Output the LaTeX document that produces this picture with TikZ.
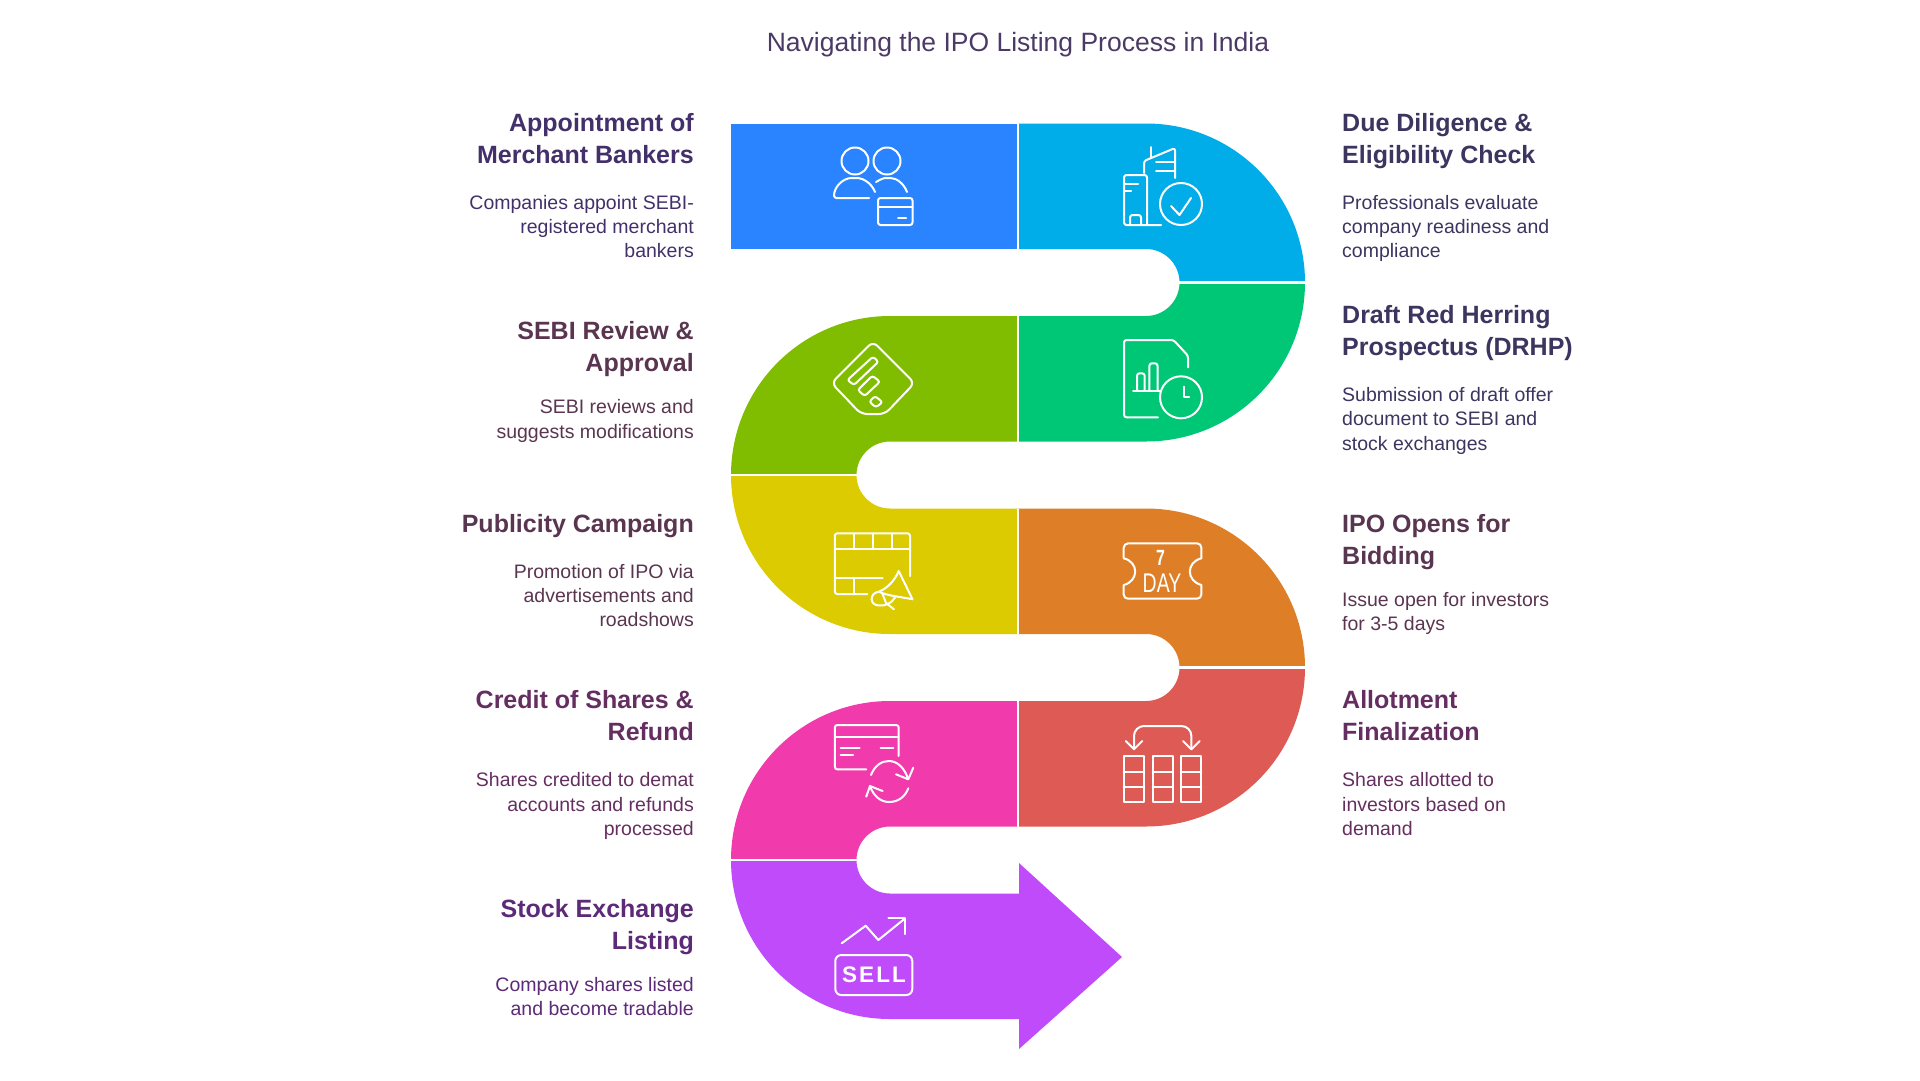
\documentclass[tikz,border=0pt]{standalone}
\usepackage{fontspec}
\setmainfont{Liberation Sans}
\newfontfamily\sellfont[LetterSpace=9]{Liberation Sans}
\def\bigradius{159}
\def\notchradius{33.5}
\definecolor{band blue}{HTML}{2A83FF}
\definecolor{band cyan}{HTML}{00ADE8}
\definecolor{band green}{HTML}{00C776}
\definecolor{band lime}{HTML}{80BD00}
\definecolor{band yellow}{HTML}{DCCB00}
\definecolor{band orange}{HTML}{DE7F27}
\definecolor{band red}{HTML}{DE5A55}
\definecolor{band pink}{HTML}{F13BAD}
\definecolor{band purple}{HTML}{BF4BFB}
\definecolor{title ink}{HTML}{4C3A66}
\definecolor{ink blue}{HTML}{43306A}
\definecolor{ink slate}{HTML}{3B3560}
\definecolor{ink plum}{HTML}{5A3550}
\definecolor{ink wine}{HTML}{652E60}
\definecolor{ink violet}{HTML}{5C2A78}
\tikzset{
  headleft/.style={anchor=north east, align=right, inner sep=0pt, font=\fontsize{25}{32}\selectfont\bfseries},
  headright/.style={anchor=north west, align=left, inner sep=0pt, font=\fontsize{25}{32}\selectfont\bfseries},
  bodyleft/.style={anchor=north east, align=right, inner sep=0pt, font=\fontsize{19.5}{24.2}\selectfont},
  bodyright/.style={anchor=north west, align=left, inner sep=0pt, font=\fontsize{19.5}{24.2}\selectfont}
  }
\tikzstyle{divider} = [draw=white, line width=2.5pt]
\tikzstyle{icon}=[draw=white, line width=2pt, line cap=round, line join=round, rounded corners=2.5pt]

\begin{document}
\begin{tikzpicture}[x=1pt,y=1pt,yscale=-1]
   \useasboundingbox (0,0) rectangle (1920,1080);

   \node[inner sep=0pt, text=title ink, font=\fontsize{26.5}{32}\selectfont] (title) at (1018,44.5) {Navigating the IPO Listing Process in India};

   % the winding band, one piece per step
   \fill[band blue] (731,123.5) rectangle (1018,249);
   \fill[band cyan] (1018,123.5) -- (1146,123.5) arc[start angle=-90, end angle=0, radius=\bigradius] -- (1179.5,282.5) arc[start angle=0, end angle=-90, radius=\notchradius] -- (1018,249) -- cycle;
   \fill[band green] (1018,316) -- (1146,316) arc[start angle=90, end angle=0, radius=\notchradius] -- (1305,282.5) arc[start angle=0, end angle=90, radius=\bigradius] -- (1018,441.5) -- cycle;
   \fill[band lime] (1018,316) -- (890,316) arc[start angle=-90, end angle=-180, radius=\bigradius] -- (856.5,475) arc[start angle=180, end angle=270, radius=\notchradius] -- (1018,441.5) -- cycle;
   \fill[band yellow] (1018,508.5) -- (890,508.5) arc[start angle=90, end angle=180, radius=\notchradius] -- (731,475) arc[start angle=180, end angle=90, radius=\bigradius] -- (1018,634) -- cycle;
   \fill[band orange] (1018,508.5) -- (1146,508.5) arc[start angle=-90, end angle=0, radius=\bigradius] -- (1179.5,667.5) arc[start angle=0, end angle=-90, radius=\notchradius] -- (1018,634) -- cycle;
   \fill[band red] (1018,701) -- (1146,701) arc[start angle=90, end angle=0, radius=\notchradius] -- (1305,667.5) arc[start angle=0, end angle=90, radius=\bigradius] -- (1018,826.5) -- cycle;
   \fill[band pink] (1018,701) -- (890,701) arc[start angle=-90, end angle=-180, radius=\bigradius] -- (856.5,860) arc[start angle=180, end angle=270, radius=\notchradius] -- (1018,826.5) -- cycle;
   \fill[band purple] (1019,893.5) -- (890,893.5) arc[start angle=90, end angle=180, radius=\notchradius] -- (731,860) arc[start angle=180, end angle=90, radius=\bigradius] -- (1019,1019) -- (1019,1049) -- (1122,957) -- (1019,863) -- cycle;

   \path[divider] (1018,123) -- (1018,249);
   \path[divider] (1018,316) -- (1018,441.5);
   \path[divider] (1018,508.5) -- (1018,634);
   \path[divider] (1018,701) -- (1018,826.5);
   \path[divider] (1179,282.5) -- (1306,282.5);
   \path[divider] (730,475) -- (857,475);
   \path[divider] (1179,667.5) -- (1306,667.5);
   \path[divider] (730,860) -- (857,860);

   % people with card
   \draw[icon] (855,161) circle[radius=13.5];
   \draw[icon] (887,161) circle[radius=13.5];
   \draw[icon] (869,198) -- (834,198) .. controls (834,187) and (843,178) .. (854,178) .. controls (864,178) and (872,184) .. (875,192);
   \draw[icon] (876,182) .. controls (881,179) and (884,178) .. (888,178) .. controls (897,178) and (904,184) .. (907,192);
   \draw[icon] (878,198) rectangle (912.5,225);
   \draw[icon] (878,207) -- (912.5,207);
   \draw[icon] (898,218) -- (906,218);

   % buildings with check
   \draw[icon] (1161,225) -- (1124,225) -- (1124,175) -- (1147,175) -- (1147,225);
   \draw[icon] (1124,184) -- (1138,184);
   \draw[icon] (1124,191) -- (1131,191);
   \draw[icon] (1130,225) -- (1130,215) -- (1141,215) -- (1141,225);
   \draw[icon] (1144,173) -- (1144,161) -- (1175,148) -- (1175,178);
   \draw[icon] (1151,147) -- (1151,157);
   \draw[icon] (1156,162) -- (1175,162);
   \draw[icon] (1156,171) -- (1175,171);
   \draw[icon] (1181,204) circle[radius=21];
   \draw[icon,rounded corners=0pt] (1171,206) -- (1179.5,215) -- (1191,198);

   % diamond with bars
   \draw[icon,rounded corners=6pt] (873,341.5) -- (914.5,383) -- (885,414) -- (861,414) -- (831.5,383) -- cycle;
   \draw[icon] (873,356.7) -- (878.5,361.7) -- (854,385) -- (847.4,380) -- cycle;
   \draw[icon] (872.3,375.7) -- (880,381.7) -- (864.7,396) -- (857.8,390) -- cycle;
   \draw[icon] (875,396) -- (882.6,402.3) -- (875.8,407.3) -- (869.3,401.7) -- cycle;

   % document, chart, clock
   \draw[icon] (1158,417.3) -- (1124,417.3) -- (1124,340) -- (1173.5,340) -- (1188,355.7) -- (1188,367.3);
   \draw[icon] (1181,397.3) circle[radius=21];
   \draw[icon,rounded corners=0pt] (1184,386.7) -- (1184,396.7) -- (1189,396.7);
   \draw[icon] (1133,391) -- (1160,391);
   \draw[icon] (1137,391) -- (1137,373.3) -- (1144.7,373.3) -- (1144.7,391);
   \draw[icon] (1149.4,391) -- (1149.4,363.3) -- (1157.5,363.3) -- (1157.5,391);

   % film strip with megaphone
   \draw[icon] (910,576) -- (910,533.3) -- (834.8,533.3) -- (834.8,594) -- (867.3,594);
   \draw[icon] (834.8,549.3) -- (910,549.3);
   \draw[icon] (853.6,533.3) -- (853.6,549.3);
   \draw[icon] (873,533.3) -- (873,549.3);
   \draw[icon] (892,533.3) -- (892,549.3);
   \draw[icon] (834.8,578.3) -- (882.6,578.3);
   \draw[icon] (853.6,578.3) -- (853.6,594);
   \draw[icon,rounded corners=0pt] (878.8,591.7) .. controls (888,588) and (895,580) .. (898.7,571) -- (912.5,599.3) .. controls (902,597) and (888,596) .. (878.8,591.7);
   \draw[icon,rounded corners=0pt] (878.8,591.7) .. controls (869,593) and (869,606) .. (880,605.5) .. controls (885,606) and (892,603) .. (895,597.5);
   \draw[icon,rounded corners=0pt] (882,592.7) -- (886,603) -- (894,609.3);

   % ticket
   \draw[icon,rounded corners=0pt] (1128,543.3) -- (1197,543.3) arc[start angle=-90, end angle=0, radius=4.4] -- (1201.4,558.3) .. controls (1186,562) and (1186,581) .. (1201.4,585) -- (1201.4,594.3) arc[start angle=0, end angle=90, radius=4.4] -- (1128,598.7) arc[start angle=90, end angle=180, radius=4.4] -- (1123.7,585) .. controls (1139,581) and (1139,562) .. (1123.7,558.3) -- (1123.7,547.7) arc[start angle=180, end angle=270, radius=4.4];
   \node[inner sep=0pt, text=white, font=\fontsize{22}{22}\selectfont\bfseries] (seven) at (1160.5,558) {\scalebox{.72}[1]{7}};
   \node[inner sep=0pt, text=white, font=\fontsize{27}{27}\selectfont] (day) at (1162,583) {\scalebox{.72}[1]{DAY}};

   % table with swap arrows
   \draw[icon,rounded corners=0pt] (1123.7,756) rectangle (1144,802.3);
   \draw[icon,rounded corners=0pt] (1152.5,756) rectangle (1172.7,802.3);
   \draw[icon,rounded corners=0pt] (1181,756) rectangle (1201.4,802.3);
   \foreach \rowy in {771.7,786.7}
     \draw[icon] (1123.7,\rowy) -- (1144,\rowy) (1152.5,\rowy) -- (1172.7,\rowy) (1181,\rowy) -- (1201.4,\rowy);
   \draw[icon,rounded corners=10pt] (1134,748.3) -- (1134,726) -- (1191.4,726) -- (1191.4,748.3);
   \draw[icon,rounded corners=0pt] (1125.7,741) -- (1134,749.3) -- (1142.3,741);
   \draw[icon,rounded corners=0pt] (1183,741) -- (1191.4,749.3) -- (1199.7,741);

   % card with refresh
   \draw[icon] (898.7,756) -- (898.7,725) -- (834.8,725) -- (834.8,769.3) -- (866.2,769.3);
   \draw[icon] (834.8,736.7) -- (898.7,736.7);
   \draw[icon] (840.5,748.3) -- (859.7,748.3);
   \draw[icon] (840.5,755.3) -- (853,755.3);
   \draw[icon] (880.7,748.3) -- (893.4,748.3);
   \draw[icon,rounded corners=0pt] (871,775) .. controls (875,765) and (882,761) .. (889,761) .. controls (898,761) and (905,769) .. (908,779);
   \draw[icon,rounded corners=0pt] (896,774.3) -- (908.3,779.3) -- (913.3,767.7);
   \draw[icon,rounded corners=0pt] (908.3,788.3) .. controls (905,797) and (898,802) .. (889,802) .. controls (880,802) and (873,795) .. (870,786);
   \draw[icon,rounded corners=0pt] (882.6,791) -- (870,786) -- (866.2,796.7);

   % chart over sell sign
   \draw[icon,rounded corners=0pt] (841.7,943.3) -- (865.7,925.7) -- (878.3,940) -- (904,919.3);
   \draw[icon,rounded corners=0pt] (888.3,918.3) -- (905,918.3) -- (905,934);
   \draw[icon,rounded corners=6pt] (835.3,955) rectangle (912.3,995);
   \node[inner sep=0pt, text=white, font=\sellfont\fontsize{22.5}{23}\selectfont\bfseries] (sell) at (874,975) {SELL};

   % texts on the left
   \node[headleft, text=ink blue] (bankers) at (694,113.5) {Appointment of\\Merchant Bankers};
   \node[bodyleft, text=ink blue] (bankersbody) at (694,195) {Companies appoint SEBI-\\registered merchant\\bankers};
   \node[headleft, text=ink plum] (review) at (694,321.5) {SEBI Review \&\\Approval};
   \node[bodyleft, text=ink plum] (reviewbody) at (694,399.5) {SEBI reviews and\\suggests modifications};
   \node[headleft, text=ink plum] (publicity) at (694,514) {Publicity Campaign};
   \node[bodyleft, text=ink plum] (publicitybody) at (694,564) {Promotion of IPO via\\advertisements and\\roadshows};
   \node[headleft, text=ink wine] (credit) at (694,690) {Credit of Shares \&\\Refund};
   \node[bodyleft, text=ink wine] (creditbody) at (694,772.5) {Shares credited to demat\\accounts and refunds\\processed};
   \node[headleft, text=ink violet] (listing) at (694,899.5) {Stock Exchange\\Listing};
   \node[bodyleft, text=ink violet] (listingbody) at (694,977) {Company shares listed\\and become tradable};

   % texts on the right
   \node[headright, text=ink slate] (diligence) at (1342,113.5) {Due Diligence \&\\Eligibility Check};
   \node[bodyright, text=ink slate] (diligencebody) at (1342,195) {Professionals evaluate\\company readiness and\\compliance};
   \node[headright, text=ink slate] (drhp) at (1342,305.5) {Draft Red Herring\\Prospectus (DRHP)};
   \node[bodyright, text=ink slate] (drhpbody) at (1342,387.3) {Submission of draft offer\\document to SEBI and\\stock exchanges};
   \node[headright, text=ink plum] (bidding) at (1342,514) {IPO Opens for\\Bidding};
   \node[bodyright, text=ink plum] (biddingbody) at (1342,592) {Issue open for investors\\for 3-5 days};
   \node[headright, text=ink wine] (allotment) at (1342,690) {Allotment\\Finalization};
   \node[bodyright, text=ink wine] (allotmentbody) at (1342,772.5) {Shares allotted to\\investors based on\\demand};
\end{tikzpicture}
\end{document}
